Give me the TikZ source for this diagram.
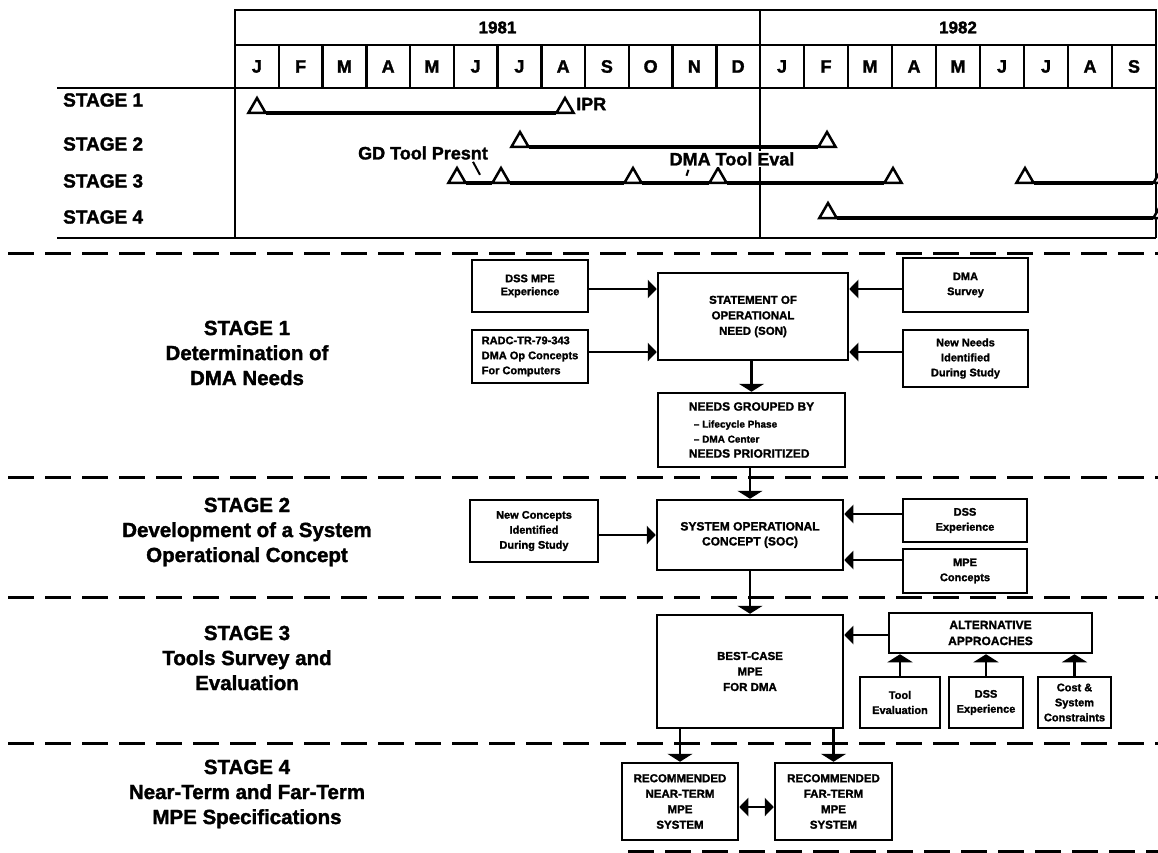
\documentclass[tikz,border=0pt]{standalone}
\usepackage{fontspec}
\setmainfont{Liberation Sans}[BoldFeatures={FakeBold=1.6}]
\usetikzlibrary{arrows.meta,shapes.geometric,calc}

\begin{document}
\begin{tikzpicture}[x=1pt,y=-1pt,
  grid/.style={line width=2.5pt},
  bar/.style={line width=4pt},
  ms/.style={regular polygon, regular polygon sides=3, draw, fill=white,
    line width=2.5pt, minimum size=20pt, inner sep=0pt, outer sep=0pt},
  tl/.style={inner sep=0pt, font=\fontsize{19}{22}\selectfont\bfseries},
  yr/.style={inner sep=0pt, font=\fontsize{17}{20}\selectfont\bfseries},
  mo/.style={inner sep=0pt, font=\fontsize{18}{20}\selectfont\bfseries},
  note/.style={inner sep=1pt, font=\fontsize{18}{20}\selectfont\bfseries},
  tick/.style={line width=2pt},
  sep/.style={line width=3pt, dash pattern=on 26pt off 11pt},
  stagelab/.style={align=center, inner sep=0pt,
    font=\fontsize{20.5}{25}\selectfont\bfseries},
  box/.style={draw, line width=2.5pt, inner sep=2pt, align=center,
    font=\fontsize{11}{15}\selectfont\bfseries},
  capbox/.style={box, font=\fontsize{11.5}{15.5}\selectfont\bfseries},
  flowh/.style={line width=2.5pt, -{Triangle[width=18pt,length=9pt]}},
  flowv/.style={line width=2.5pt, -{Triangle[width=25pt,length=8pt]}},
  flowboth/.style={line width=2.5pt,
    {Triangle[width=18pt,length=9pt]}-{Triangle[width=18pt,length=9pt]}}
]
\useasboundingbox (0,0) rectangle (1158,853);
\clip (0,0) rectangle (1158,853);

% ---------------- schedule chart ----------------
\draw[grid] (235,238) -- (235,10) -- (1156,10) -- (1156,238);
\draw[grid] (235,45) -- (1156,45);
\draw[grid] (57,88) -- (1156,88);
\draw[grid] (57,238) -- (1156,238);
\draw[grid] (760,10) -- (760,238);
\foreach \i in {1,...,11} \draw[grid] ({235+43.75*\i},45) -- ++(0,43);
\foreach \i in {1,...,8} \draw[grid] ({760+44*\i},45) -- ++(0,43);

\node[yr] (y81) at (497.5,27.5) {1981};
\node[yr] (y82) at (958,27.5) {1982};
\foreach \m [count=\i from 0] in {J,F,M,A,M,J,J,A,S,O,N,D}
  \node[mo] (ma\i) at ({235+43.75*(\i+0.5)},66.5) {\m};
\foreach \m [count=\i from 0] in {J,F,M,A,M,J,J,A,S}
  \node[mo] (mb\i) at ({760+44*(\i+0.5)},66.5) {\m};

\node[tl, anchor=west] (t1) at (63,100) {STAGE 1};
\node[tl, anchor=west] (t2) at (63,144) {STAGE 2};
\node[tl, anchor=west] (t3) at (63,181) {STAGE 3};
\node[tl, anchor=west] (t4) at (63,217) {STAGE 4};

% milestones (triangle base sits on the bar)
\node[ms] (a1) at (257,108) {};
\node[ms] (a2) at (565,108) {};
\node[ms] (b1) at (520,142) {};
\node[ms] (b2) at (827,142) {};
\node[ms] (c1) at (457,178) {};
\node[ms] (c2) at (501,178) {};
\node[ms] (c3) at (633,178) {};
\node[ms] (c4) at (718,178) {};
\node[ms] (c5) at (893,178) {};
\node[ms] (c6) at (1025,178) {};
\node[ms] (c7) at (1162,178) {};
\node[ms] (d1) at (828,213) {};
\node[ms] (d2) at (1162,213) {};

\draw[bar] (a1.corner 3) -- (a2.corner 2);
\draw[bar] (b1.corner 3) -- (b2.corner 2);
\draw[bar] (c1.corner 3) -- (c2.corner 2);
\draw[bar] (c2.corner 3) -- (c3.corner 2);
\draw[bar] (c3.corner 3) -- (c4.corner 2);
\draw[bar] (c4.corner 3) -- (c5.corner 2);
\draw[bar] (c6.corner 3) -- (c7.corner 2);
\draw[bar] (d1.corner 3) -- (d2.corner 2);

\node[note, anchor=west] (ipr) at (575,104) {IPR};
\node[note] (gd) at (423,153) {GD Tool Presnt};
\draw[tick] ($(gd.south)+(50,1)$) -- ++(7,13);
\node[note, fill=white] (dte) at (732,159) {DMA Tool Eval};
\draw[tick] ($(dte.south west)+(20,3)$) -- ++(-2,6);

% ---------------- stage separators ----------------
\draw[sep] (8,253) -- (1158,253);
\draw[sep] (8,477) -- (1158,477);
\draw[sep] (8,597) -- (1158,597);
\draw[sep] (8,743) -- (1158,743);
\draw[sep] (628,851) -- (1158,851);

\node[stagelab] (L1) at (247,353) {STAGE 1\\Determination of\\DMA Needs};
\node[stagelab] (L2) at (247,532) {STAGE 2\\Development of a System\\Operational Concept};
\node[stagelab] (L3) at (247,658) {STAGE 3\\Tools Survey and\\Evaluation};
\node[stagelab] (L4) at (247,794) {STAGE 4\\Near-Term and Far-Term\\MPE Specifications};

% ---------------- stage 1 ----------------
\node[box, minimum width=116pt, minimum height=52pt, font=\fontsize{11}{13}\selectfont\bfseries]
  (dssmpe) at (530,286) {DSS MPE\\Experience};
\node[box, align=left, minimum width=116pt, minimum height=53pt]
  (radc) at (530,356.5) {RADC-TR-79-343\\DMA Op Concepts\\For Computers};
\node[capbox, minimum width=190pt, minimum height=87pt]
  (son) at (753,316.5) {STATEMENT OF\\OPERATIONAL\\NEED (SON)};
\node[box, minimum width=125pt, minimum height=54pt]
  (dmasurvey) at (965.5,285) {DMA\\Survey};
\node[box, minimum width=125pt, minimum height=57pt]
  (newneeds) at (965.5,358.5) {New Needs\\Identified\\During Study};
\node[box, align=left, minimum width=187pt, minimum height=74pt]
  (needs) at (751.5,430) {\fontsize{12}{15}\selectfont NEEDS GROUPED BY\\[2pt]
  \fontsize{10}{15}\selectfont\hspace*{5pt}-- Lifecycle Phase\\
  \fontsize{10}{15}\selectfont\hspace*{5pt}-- DMA Center\\
  \fontsize{12}{15}\selectfont NEEDS PRIORITIZED};

% ---------------- stage 2 ----------------
\node[box, minimum width=128pt, minimum height=62pt]
  (newconcepts) at (534,531) {New Concepts\\Identified\\During Study};
\node[capbox, minimum width=186pt, minimum height=70pt, font=\fontsize{12}{15}\selectfont\bfseries]
  (soc) at (750,535) {SYSTEM OPERATIONAL\\CONCEPT (SOC)};
\node[box, minimum width=124pt, minimum height=43pt]
  (dssexp) at (965,520.5) {DSS\\Experience};
\node[box, minimum width=124pt, minimum height=44pt]
  (mpeconcepts) at (965,571) {MPE\\Concepts};

% ---------------- stage 3 ----------------
\node[capbox, minimum width=186pt, minimum height=113pt]
  (bestcase) at (750,671.5) {BEST-CASE\\MPE\\FOR DMA};
\node[capbox, minimum width=203pt, minimum height=40pt, font=\fontsize{12}{16}\selectfont\bfseries]
  (alt) at (990.5,633) {ALTERNATIVE\\APPROACHES};
\node[box, minimum width=80pt, minimum height=51pt]
  (tooleval) at (900,702.5) {Tool\\Evaluation};
\node[box, minimum width=74pt, minimum height=51pt]
  (dssexp2) at (986,702.5) {DSS\\Experience};
\node[box, minimum width=73pt, minimum height=51pt]
  (cost) at (1074.5,702.5) {Cost \&\\System\\Constraints};

% ---------------- stage 4 ----------------
\node[capbox, minimum width=116pt, minimum height=77pt]
  (near) at (680,801.5) {RECOMMENDED\\NEAR-TERM\\MPE\\SYSTEM};
\node[capbox, minimum width=117pt, minimum height=77pt]
  (far) at (833.5,801.5) {RECOMMENDED\\FAR-TERM\\MPE\\SYSTEM};

% ---------------- connectors ----------------
\coordinate (rSonA) at (0,289);
\coordinate (rSonB) at (0,352);
\coordinate (rSocA) at (0,514);
\coordinate (rSocB) at (0,560);
\coordinate (rSoc)  at (0,535);
\coordinate (rAlt)  at (0,635);
\coordinate (rRec)  at (0,807);

\draw[flowh] (dssmpe.east |- rSonA) -- (son.west |- rSonA);
\draw[flowh] (radc.east |- rSonB) -- (son.west |- rSonB);
\draw[flowh] (dmasurvey.west |- rSonA) -- (son.east |- rSonA);
\draw[flowh] (newneeds.west |- rSonB) -- (son.east |- rSonB);
\draw[flowv] (needs.north |- son.south) -- (needs.north);
\draw[flowv] (soc.north |- needs.south) -- (soc.north);
\draw[flowh] (newconcepts.east |- rSoc) -- (soc.west |- rSoc);
\draw[flowh] (dssexp.west |- rSocA) -- (soc.east |- rSocA);
\draw[flowh] (mpeconcepts.west |- rSocB) -- (soc.east |- rSocB);
\draw[flowv] (bestcase.north |- soc.south) -- (bestcase.north);
\draw[flowh] (alt.west |- rAlt) -- (bestcase.east |- rAlt);
\draw[flowv] (tooleval.north) -- (tooleval.north |- alt.south);
\draw[flowv] (dssexp2.north) -- (dssexp2.north |- alt.south);
\draw[flowv] (cost.north) -- (cost.north |- alt.south);
\draw[flowv] (near.north |- bestcase.south) -- (near.north);
\draw[flowv] (far.north |- bestcase.south) -- (far.north);
\draw[flowboth] (near.east |- rRec) -- (far.west |- rRec);
\end{tikzpicture}
\end{document}
